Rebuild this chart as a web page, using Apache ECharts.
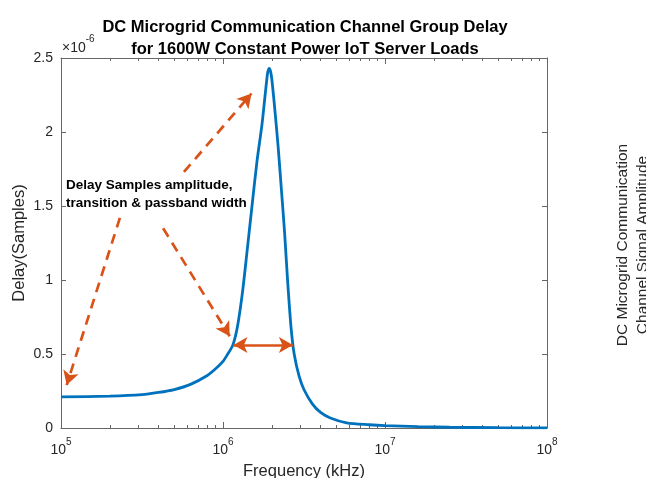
<!DOCTYPE html>
<html>
<head>
<meta charset="utf-8">
<script src="https://cdn.jsdelivr.net/npm/echarts@6/dist/echarts.min.js"></script>
<style>
  html, body { margin: 0; padding: 0; background: #ffffff; }
  #chart { width: 646px; height: 478px; }
</style>
</head>
<body>
<div id="chart"></div>
<script>
// Group delay (in units of 1e-6 samples) against frequency in kHz
const freqKHz = [
  1e5, 2e5, 3.16e5, 4e5, 5e5, 6.3e5, 8e5, 9e5, 1e6, 1.07e6, 1.15e6, 1.23e6,
  1.32e6, 1.41e6, 1.51e6, 1.62e6, 1.74e6, 1.82e6, 1.88e6, 1.905e6, 1.93e6,
  1.965e6, 2.0e6, 2.09e6, 2.19e6, 2.29e6, 2.40e6, 2.51e6, 2.63e6, 2.75e6,
  2.95e6, 3.16e6, 3.55e6, 4.0e6, 4.6e6, 5.8e6, 8.0e6, 1e7, 1.6e7, 2.5e7,
  5e7, 1e8
];
const delayE6 = [
  0.210, 0.215, 0.225, 0.240, 0.260, 0.295, 0.355, 0.400, 0.450, 0.500, 0.560, 0.690,
  0.920, 1.200, 1.500, 1.800, 2.050, 2.250, 2.390, 2.420, 2.430,
  2.410, 2.360, 2.150, 1.900, 1.620, 1.320, 0.980, 0.680, 0.500,
  0.350, 0.260, 0.165, 0.105, 0.068, 0.035, 0.022, 0.016, 0.009, 0.005,
  0.002, 0.001
];

// Axis ticks
const xTickExps = [5, 6, 7, 8];
const yTicks = [0, 0.5, 1, 1.5, 2, 2.5];

// Annotation arrows, [frequency kHz, delay e-6] pairs: start -> head
const arrowToPeak = [[5.74e5, 1.73], [1.50e6, 2.26]];
const arrowToBase = [[2.31e5, 1.42], [1.084e5, 0.29]];
const arrowToFlank = [[4.27e5, 1.35], [1.10e6, 0.62]];
const widthSpan = [[1.16e6, 0.56], [2.70e6, 0.56]];

const noteText = 'Delay Samples amplitude,\ntransition & passband width';
const titleLines = [
  'DC Microgrid Communication Channel Group Delay',
  'for 1600W Constant Power IoT Server Loads'
];
const rightText = 'DC Microgrid Communication\nChannel Signal Amplitude';

const FONT = '"Liberation Sans", Arial, Helvetica, sans-serif';
const AXIS_COLOR = '#666666';
const TEXT_COLOR = '#262626';
const LINE_BLUE = '#0072BD';
const ARROW_ORANGE = '#D95319';

const majorX = xTickExps.map(e => Math.pow(10, e));
const minorX = [];
for (let i = 0; i < xTickExps.length - 1; i++) {
  for (let m = 2; m <= 9; m++) minorX.push(m * Math.pow(10, xTickExps[i]));
}

const chart = echarts.init(document.getElementById('chart'), null, { renderer: 'canvas' });

function xAxisBase(position, showLine) {
  return {
    type: 'log',
    logBase: 10,
    min: majorX[0],
    max: majorX[majorX.length - 1],
    position: position,
    axisLine: { show: showLine, lineStyle: { color: AXIS_COLOR, width: 1 } },
    splitLine: { show: false },
    minorTick: { show: false },
    axisLabel: { show: false },
    axisTick: { show: false }
  };
}

const xAxes = [];
// bottom axis with decade labels
const bottomMajor = xAxisBase('bottom', true);
bottomMajor.axisTick = { show: true, inside: true, length: 6, customValues: majorX,
  lineStyle: { color: AXIS_COLOR, width: 1 } };
bottomMajor.axisLabel = {
  show: true,
  customValues: majorX,
  margin: 9,
  color: TEXT_COLOR,
  fontFamily: FONT,
  formatter: v => '{b|10}{s|' + Math.round(Math.log10(v)) + '}',
  rich: {
    b: { fontSize: 14, fontFamily: FONT, color: TEXT_COLOR, padding: [6, 0, 0, 0] },
    s: { fontSize: 10, fontFamily: FONT, color: TEXT_COLOR, verticalAlign: 'top' }
  }
};
bottomMajor.name = 'Frequency (kHz)';
bottomMajor.nameLocation = 'middle';
bottomMajor.nameGap = 35;
bottomMajor.nameMoveOverlap = false;
bottomMajor.nameTextStyle = { fontSize: 16.5, fontFamily: FONT, color: TEXT_COLOR };
xAxes.push(bottomMajor);

const bottomMinor = xAxisBase('bottom', false);
bottomMinor.axisTick = { show: true, inside: true, length: 3, customValues: minorX,
  lineStyle: { color: AXIS_COLOR, width: 1 } };
xAxes.push(bottomMinor);

const topMajor = xAxisBase('top', true);
topMajor.axisTick = { show: true, inside: true, length: 6, customValues: majorX,
  lineStyle: { color: AXIS_COLOR, width: 1 } };
xAxes.push(topMajor);

const topMinor = xAxisBase('top', false);
topMinor.axisTick = { show: true, inside: true, length: 3, customValues: minorX,
  lineStyle: { color: AXIS_COLOR, width: 1 } };
xAxes.push(topMinor);

function yAxisBase(position, labels) {
  return {
    type: 'value',
    min: yTicks[0],
    max: yTicks[yTicks.length - 1],
    interval: yTicks[1] - yTicks[0],
    position: position,
    axisLine: { show: true, lineStyle: { color: AXIS_COLOR, width: 1 } },
    axisTick: { show: true, inside: true, length: 5, lineStyle: { color: AXIS_COLOR, width: 1 } },
    splitLine: { show: false },
    axisLabel: {
      show: labels,
      margin: 8,
      fontSize: 14,
      fontFamily: FONT,
      color: TEXT_COLOR,
      formatter: v => String(v)
    }
  };
}
const yLeft = yAxisBase('left', true);
yLeft.name = 'Delay(Samples)';
yLeft.nameLocation = 'middle';
yLeft.nameGap = 33;
yLeft.nameRotate = 90;
yLeft.nameMoveOverlap = false;
yLeft.nameTextStyle = { fontSize: 16.5, fontFamily: FONT, color: TEXT_COLOR };
const yRight = yAxisBase('right', false);

function arrowLine(pts, startSym, endSym, dashed) {
  return [
    { coord: pts[0], symbol: startSym, symbolSize: [12, 14] },
    { coord: pts[1], symbol: endSym, symbolSize: [12, 14],
      lineStyle: { color: ARROW_ORANGE, width: 2.7, type: dashed ? [10, 7] : 'solid' } }
  ];
}

const option = {
  animation: false,
  backgroundColor: '#ffffff',
  grid: { left: 61, right: 99, top: 58, bottom: 50, containLabel: false, outerBoundsMode: 'none' },
  title: {
    text: titleLines.join('\n'),
    left: 300,
    top: 11,
    textAlign: 'center',
    textStyle: { fontSize: 16.5, fontWeight: 'bold', fontFamily: FONT, color: '#000000', lineHeight: 22 }
  },
  xAxis: xAxes,
  yAxis: [yLeft, yRight],
  series: [
    {
      type: 'line',
      name: 'Group delay',
      xAxisIndex: 0,
      yAxisIndex: 0,
      data: freqKHz.map((f, i) => [f, delayE6[i]]),
      showSymbol: false,
      smooth: 0.25,
      lineStyle: { color: LINE_BLUE, width: 2.8 },
      itemStyle: { color: LINE_BLUE },
      silent: true,
      z: 3,
      markLine: {
        silent: true,
        animation: false,
        label: { show: false },
        emphasis: { disabled: true },
        lineStyle: { color: ARROW_ORANGE, width: 2.7 },
        itemStyle: { color: ARROW_ORANGE },
        data: [
          arrowLine(arrowToPeak, 'none', 'arrow', true),
          arrowLine(arrowToBase, 'none', 'arrow', true),
          arrowLine(arrowToFlank, 'none', 'arrow', true),
          arrowLine(widthSpan, 'arrow', 'arrow', false)
        ]
      }
    }
  ],
  graphic: [
    {
      type: 'text',
      left: 62,
      top: 34,
      silent: true,
      style: {
        text: '{a|×10}{e|-6}',
        rich: {
          a: { fontSize: 14, fontFamily: FONT, fill: TEXT_COLOR, padding: [7, 0, 0, 0] },
          e: { fontSize: 10, fontFamily: FONT, fill: TEXT_COLOR, verticalAlign: 'top' }
        }
      }
    },
    {
      type: 'text',
      left: 66,
      top: 176,
      silent: true,
      z: 10,
      style: {
        text: noteText,
        fontSize: 13.5,
        fontWeight: 'bold',
        fontFamily: FONT,
        fill: '#000000',
        lineHeight: 18
      }
    },
    {
      type: 'text',
      x: 633,
      y: 245,
      rotation: Math.PI / 2,
      silent: true,
      style: {
        text: rightText,
        fontSize: 15.5,
        fontFamily: FONT,
        fill: TEXT_COLOR,
        lineHeight: 20,
        align: 'center',
        verticalAlign: 'middle'
      }
    }
  ]
};

chart.setOption(option);
</script>
</body>
</html>
